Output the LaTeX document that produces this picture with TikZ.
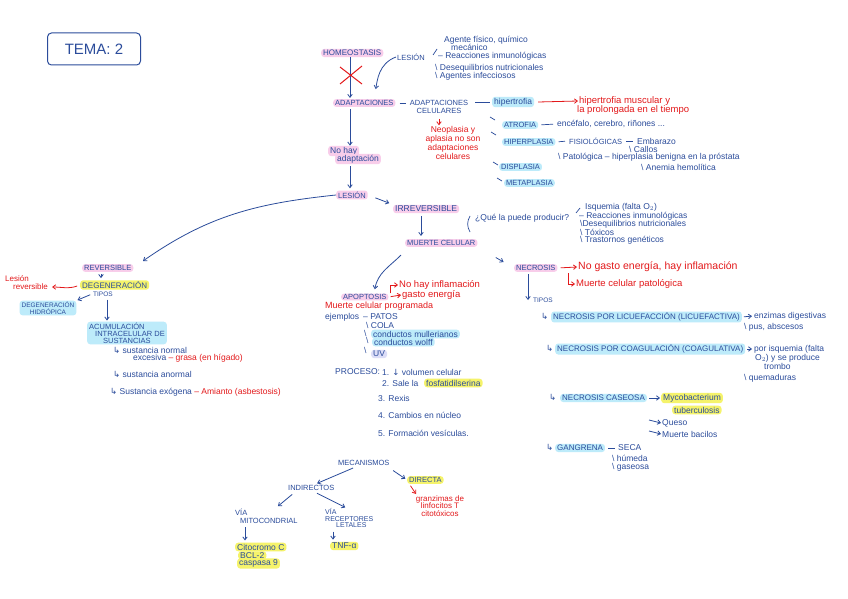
\documentclass[tikz,border=0pt]{standalone}
\usepackage{fontspec}
\setmainfont{Liberation Sans}
\newfontfamily\symf{DejaVu Sans}
\usetikzlibrary{arrows.meta}
\definecolor{ink}{HTML}{2B4C9B}
\definecolor{rink}{HTML}{E3191B}
\definecolor{hpink}{HTML}{F8CDEA}
\definecolor{hcyan}{HTML}{BDEBFA}
\definecolor{hyel}{HTML}{F5F36B}
\definecolor{hlil}{HTML}{DCDDF7}
\newcommand\hk{{\symf ↳}}
\newcommand\myra{{\symf →}}
\newcommand\mydn{{\symf ↓}}
\newcommand\tk{\textbackslash\ }
\tikzset{
 tx/.style={font=\fontsize{8.5}{9}\selectfont, text=ink, inner sep=1pt, anchor=west},
 capf/.style={font=\fontsize{7.5}{8}\selectfont},
 capb/.style={font=\fontsize{8}{8.5}\selectfont},
 rt/.style={tx, text=rink, font=\fontsize{9.5}{10}\selectfont},
 hl/.style={tx, rounded corners=3pt, inner xsep=2pt, inner ysep=1.2pt},
 hp/.style={hl, fill=hpink},
 hc/.style={hl, fill=hcyan},
 hy/.style={hl, fill=hyel},
 hv/.style={hl, fill=hlil},
 arr/.style={draw=ink, line width=0.8pt, -{Straight Barb[length=3pt,width=4.5pt]}},
 rarr/.style={arr, draw=rink},
 ln/.style={draw=ink, line width=0.7pt},
}
\begin{document}
\begin{tikzpicture}[x=1pt,y=-1pt]
\useasboundingbox[fill=white] (0,0) rectangle (848,599);
\coordinate (x350) at (350,0);
\coordinate (x374) at (374,0);
\coordinate (x421) at (421,0);
\coordinate (x101) at (101,0);
\coordinate (x107) at (107,0);
\coordinate (x528) at (528,0);
\coordinate (x245) at (245,0);
\coordinate (x333) at (333,0);

% title
\node[draw=ink, line width=1pt, rounded corners=4pt, minimum width=93pt, minimum height=32pt, text=ink, font=\fontsize{15}{16}\selectfont, inner sep=2pt] (title) at (94,49) {TEMA: 2};

% top
\node[hp,capb] (homeo) at (321,53) {HOMEOSTASIS};
\node[tx,capf] (les1) at (396,57) {LESIÓN};
\node[tx] (ag1) at (443,40) {Agente físico, químico};
\node[tx] (ag2) at (450,47.5) {mecánico};
\node[tx] (ag3) at (437,56.5) {– Reacciones inmunológicas};
\node[tx] (ag4) at (434,68) {\tk Desequilibrios nutricionales};
\node[tx] (ag5) at (434,76.5) {\tk Agentes infecciosos};
\draw[ln] (433,55) -- (437,49);

% adaptaciones
\node[hp,capf] (adapt) at (333,103) {ADAPTACIONES};
\draw[arr] (homeo.south -| x350) -- ([yshift=1pt]x350 |- adapt.north);
\draw[draw=rink, line width=1pt] (340,67) -- (362,84) (362,66) -- (340,84);
\draw[arr, shorten >=10pt] (les1.west) to[out=200,in=80] (adapt.north -| x374);
\node[tx, capf, align=center, anchor=center] (adcel) at (439,107) {ADAPTACIONES\\CELULARES};
\draw[ln, shorten <=4pt, shorten >=3pt] (adapt.east) -- (adcel.west |- adapt.east);
\node[hc] (hipt) at (492,102) {hipertrofia};
\draw[ln, shorten <=6pt, shorten >=2pt] (adcel.east |- hipt.west) -- (hipt.west);
\node[rt] (hm1) at (578,101) {hipertrofia muscular y};
\node[rt] (hm2) at (576,110) {la prolongada en el tiempo};
\draw[rarr] ([xshift=4pt]hipt.east) -- (hm1.west);
\node[rt, anchor=center, align=center, font=\fontsize{8.5}{7.4}\selectfont] (neo) at (453,143) {Neoplasia y\\aplasia no son\\adaptaciones\\celulares};
\draw[rarr, shorten <=4pt] (adcel.south) -- (adcel.south |- neo.north);

\foreach \a/\b in {490/117, 491/132, 493/162, 497/178} \draw[ln] (\a,\b) -- ++(5,3);
\node[hc,capf] (atro) at (502,125) {ATROFIA};
\node[tx] (atroe) at (556,124) {encéfalo, cerebro, riñones ...};
\draw[ln, shorten <=3pt, shorten >=3pt] (atro.east) -- (atroe.west);
\node[hc,capf] (hiperp) at (502,142) {HIPERPLASIA};
\node[tx,capf] (fisio) at (568,141) {FISIOLÓGICAS};
\draw[ln, shorten <=3pt, shorten >=3pt] (hiperp.east) -- (fisio.west);
\node[tx] (emb) at (636,141) {Embarazo};
\draw[ln, shorten <=3pt, shorten >=3pt] (fisio.east) -- (emb.west);
\node[tx] (callos) at (628,149) {\tk Callos};
\node[tx] (pato) at (557,157) {\tk Patológica – hiperplasia benigna en la próstata};
\node[tx] (anemia) at (640,167) {\tk Anemia hemolítica};
\node[hc,capf] (disp) at (499,167) {DISPLASIA};
\node[hc,capf] (meta) at (504,183) {METAPLASIA};

% no hay adaptacion
\node[hp] (nohay1) at (328,151) {No hay};
\node[hp] (nohay2) at (335,159) {adaptación};
\node[hp,capf] (les2) at (336,195) {LESIÓN};
\draw[arr] ([yshift=-2pt]adapt.south -| x350) -- (nohay1.north -| x350);
\draw[arr] ([yshift=-2pt]nohay2.south -| x350) -- ([yshift=2pt]x350 |- les2.north);

% lesion 2
\node[hp,font=\fontsize{8.5}{9}\selectfont] (irrev) at (393,209) {IRREVERSIBLE};
\draw[arr, shorten <=8pt, shorten >=4pt] (les2.east) -- (irrev.north west);
\node[hp,capf] (muerte) at (405,243) {MUERTE CELULAR};
\draw[arr, shorten <=3pt, shorten >=3pt] (irrev.south -| x421) -- (muerte.north -| x421);
\draw[ln] (470,216) to[out=240,in=120] (470,232);
\node[tx] (quep) at (474,218) {¿Qué la puede producir?};
\draw[ln] (576,213) -- (580,208);
\node[tx] (c1) at (584,207) {Isquemia (falta O$_2$)};
\node[tx] (c2) at (578,216) {– Reacciones inmunológicas};
\node[tx] (c3) at (579,224) {\textbackslash Desequilibrios nutricionales};
\node[tx] (c4) at (579,232) {\tk Tóxicos};
\node[tx] (c5) at (579,240) {\tk Trastornos genéticos};

% reversible
\coordinate (revin) at (143,261);
\node[hp,capf] (rev) at (82,268) {REVERSIBLE};
\draw[arr] (les2.west) to[out=186,in=35] (revin);
\node[hy,capb] (degen) at (80,285) {DEGENERACIÓN};
\draw[arr, shorten <=2pt, shorten >=2pt] (rev.south -| x101) -- (degen.north -| x101);
\node[rt, font=\fontsize{8}{8}\selectfont] (lrev1) at (4,279) {Lesión};
\node[rt, font=\fontsize{8}{8}\selectfont] (lrev2) at (12,287) {reversible};
\draw[rarr, shorten <=3pt, shorten >=3pt] (degen.west) to[out=200,in=0] (lrev2.east);
\node[tx, font=\fontsize{6.5}{7}\selectfont] (tipos1) at (92,294) {TIPOS};
\node[hc, align=center, anchor=center, inner ysep=1pt, font=\fontsize{6.5}{7}\selectfont] (hidro) at (48,308) {DEGENERACIÓN\\HIDRÓPICA};
\draw[arr, shorten <=2pt, shorten >=1pt] (tipos1.west) -- (hidro.north east);
\node[hc, align=left, inner ysep=1pt, font=\fontsize{7.5}{7}\selectfont] (acum) at (87,333) {ACUMULACIÓN\\\hspace{6pt}INTRACELULAR DE\\\hspace{14pt}SUSTANCIAS};
\draw[arr, shorten <=2pt, shorten >=1pt] (tipos1.south -| x107) -- (acum.north -| x107);
\node[tx] (sn1) at (112,350) {\hk\ sustancia normal};
\node[tx] (sn2) at (132,358) {excesiva \textcolor{rink}{– grasa (en hígado)}};
\node[tx] (sa) at (112,374) {\hk\ sustancia anormal};
\node[tx] (se) at (109,392) {\hk\ Sustancia exógena \textcolor{rink}{– Amianto (asbestosis)}};

% apoptosis
\node[hp,capf,inner ysep=0.8pt] (apop) at (341,297) {APOPTOSIS};
\draw[arr] ([xshift=-4pt,yshift=-8pt]muerte.south west) to[out=225,in=80] ([xshift=10pt,yshift=4pt]apop.north);
\node[rt] (nhi) at (398,285) {No hay inflamación};
\node[rt] (gas) at (401,295) {gasto energía};
\draw[rarr] ([xshift=2pt]apop.north east) |- (nhi.west);
\draw[rarr, shorten <=2pt] (apop.east) -- (gas.west);
\node[rt, font=\fontsize{9}{9}\selectfont] (mcprog) at (324,306.5) {Muerte celular programada};
\node[tx] (ej) at (324,317) {ejemplos};
\node[tx] (patos) at (362,317) {– PATOS};
\node[tx] (cola) at (365,325) {\tk COLA};
\node[tx] (t1) at (363,333) {\textbackslash};
\node[hc] (cmul) at (371,334) {conductos mullerianos};
\node[tx] (t2) at (365,340) {\textbackslash};
\node[hc] (cwol) at (372,342) {conductos wolff};
\node[tx] (t3) at (363,350) {\textbackslash};
\node[hv] (uv) at (371,354) {UV};
\node[tx] (proc) at (334,372) {PROCESO:};
\node[tx] (p1) at (381,372) {1. \mydn\ volumen celular};
\node[tx] (p2) at (381,383) {2. Sale la};
\node[hy] (fosf) at (424,383) {fosfatidilserina};
\node[tx] (p3) at (377,398) {3. Rexis};
\node[tx] (p4) at (377,415) {4. Cambios en núcleo};
\node[tx] (p5) at (377,433) {5. Formación vesículas.};

% necrosis
\node[hp,capf] (necro) at (514,268) {NECROSIS};
\draw[arr, shorten <=21pt, shorten >=12pt] (muerte.south east) -- (necro.west);
\node[rt, font=\fontsize{10.5}{11}\selectfont] (nge) at (577,267) {No gasto energía, hay inflamación};
\draw[rarr, shorten <=3pt] (necro.east) -- (nge.west);
\node[rt] (mcpat) at (575,284) {Muerte celular patológica};
\coordinate (h1) at (568,273);
\draw[rarr] (h1) |- (mcpat.west);
\node[tx, font=\fontsize{6.5}{7}\selectfont] (tipos2) at (532,300) {TIPOS};
\draw[arr, shorten <=2pt] (necro.south -| x528) -- (tipos2.west -| x528);
\node[tx] (hk1) at (540,316) {\hk};
\node[hc,capb] (licu) at (551,317) {NECROSIS POR LICUEFACCIÓN (LICUEFACTIVA)};
\node[tx] (enz) at (753,316) {enzimas digestivas};
\draw[arr, shorten <=2pt, shorten >=1pt] (licu.east) -- (enz.west);
\node[tx] (pus) at (743,327) {\tk pus, abscesos};
\node[tx] (hk2) at (545,348) {\hk};
\node[hc,capb] (coag) at (555,349) {NECROSIS POR COAGULACIÓN (COAGULATIVA)};
\node[tx] (isq1) at (753,349) {por isquemia (falta};
\node[tx] (isq2) at (754,358) {O$_2$) y se produce};
\node[tx] (isq3) at (763,366) {trombo};
\draw[arr, shorten <=2pt, shorten >=1pt] (coag.east) -- (isq1.west);
\node[tx] (quem) at (743,378) {\tk quemaduras};
\node[tx] (hk3) at (548,397) {\hk};
\node[hc,capb] (case) at (560,398) {NECROSIS CASEOSA};
\node[hy] (myc1) at (661,398) {Mycobacterium};
\node[hy] (myc2) at (672,410) {tuberculosis};
\draw[arr, shorten <=2pt, shorten >=1pt] (case.east) -- (myc1.west);
\node[tx] (queso) at (661,423) {Queso};
\node[tx] (mbac) at (661,434) {Muerte bacilos};
\coordinate (q0) at (649,420);
\coordinate (q1) at (649,431);
\draw[arr] (q0) -- (queso.west);
\draw[arr] (q1) -- (mbac.west);
\node[tx] (hk4) at (545,447) {\hk};
\node[hc,capb] (gang) at (555,448) {GANGRENA};
\node[tx] (seca) at (617,448) {SECA};
\draw[ln, shorten <=3pt, shorten >=2pt] (gang.east) -- (seca.west);
\node[tx] (hum) at (611,458) {\tk húmeda};
\node[tx] (gase) at (611,467) {\tk gaseosa};

% mecanismos
\node[tx,capf] (mec) at (337,463) {MECANISMOS};
\node[tx,capf] (indir) at (287,488) {INDIRECTOS};
\draw[arr, shorten <=3pt, shorten >=2pt] ([xshift=-8pt]mec.south) -- ([xshift=4pt]indir.north);
\node[hy,capf] (dir) at (407,480) {DIRECTA};
\draw[arr, shorten <=3pt, shorten >=2pt] ([yshift=-2pt]mec.south east) -- (dir.west);
\node[rt, anchor=north, align=center, font=\fontsize{8}{7.6}\selectfont] (granz) at (440,494) {granzimas de\\linfocitos T\\citotóxicos};
\draw[rarr, shorten <=2pt] ([xshift=-16pt]dir.south) -- ([xshift=-24pt]granz.north);
\node[tx, capf, align=left] (vmito) at (234,516) {VÍA\\\hspace{5pt}MITOCONDRIAL};
\draw[arr, shorten <=4pt, shorten >=2pt] ([xshift=-16pt]indir.south) -- ([xshift=10pt]vmito.north);
\node[tx, align=left, font=\fontsize{7}{6.3}\selectfont] (vrec) at (324,518) {VÍA\\RECEPTORES\\\hspace{11pt}LETALES};
\draw[arr, shorten <=3pt] ([xshift=3pt]indir.south) -- ([xshift=-4pt]vrec.north);
\node[hy] (cito) at (235,547) {Citocromo C};
\node[hy] (bcl) at (238,555.5) {BCL-2};
\node[hy] (casp) at (237,563.5) {caspasa 9};
\draw[arr, shorten <=3pt, shorten >=2pt] (vmito.south -| x245) -- (cito.north -| x245);
\node[hy] (tnf) at (330,546) {TNF-α};
\draw[arr, shorten <=3pt, shorten >=2pt] (vrec.south -| x333) -- (tnf.north -| x333);
\end{tikzpicture}
\end{document}
